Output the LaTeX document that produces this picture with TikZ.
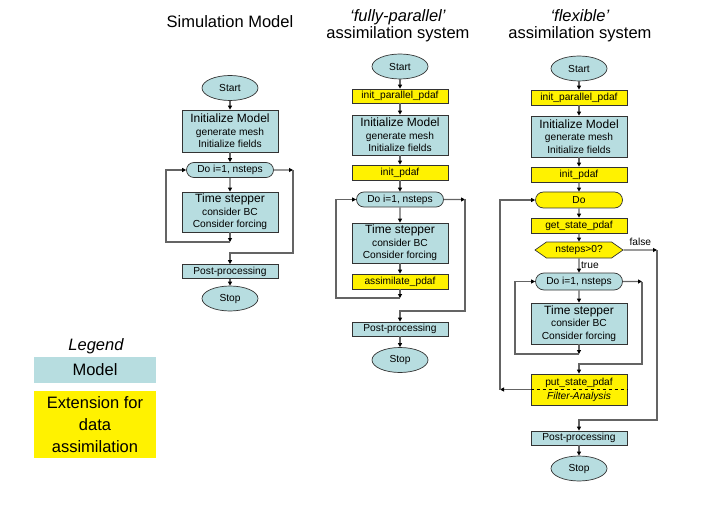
\documentclass[tikz,border=0pt]{standalone}
\usepackage{fontspec}
\setmainfont{Liberation Sans}
\usetikzlibrary{arrows.meta,shapes.geometric,shapes.misc,shapes.symbols}
\definecolor{modelblue}{RGB}{183,221,224}
\definecolor{linegray}{RGB}{100,100,100}
\newcommand{\head}[1]{{\fontsize{12}{13}\selectfont #1}}
\tikzset{
  box/.style={draw=black!80, line width=0.7pt, fill=modelblue, minimum width=96pt,
    inner sep=0pt, align=center, font=\fontsize{10.2}{12.3}\selectfont},
  extbox/.style={box, fill=yellow},
  term/.style={ellipse, draw=black!80, line width=0.7pt, fill=modelblue,
    minimum width=56pt, minimum height=25pt, inner sep=0pt, font=\fontsize{10.2}{12}\selectfont},
  loophead/.style={rounded rectangle, draw=black!80, line width=0.7pt, fill=modelblue,
    minimum width=87pt, minimum height=15pt, inner sep=0pt, font=\fontsize{10.2}{12}\selectfont},
  decision/.style={signal, signal to=east and west, signal pointer angle=70, draw=black!80,
    line width=0.7pt, fill=yellow, minimum width=88pt, minimum height=16pt, inner sep=0pt,
    font=\fontsize{10.2}{12}\selectfont},
  flow/.style={draw=linegray, line width=1.2pt, -{Triangle[length=4pt,width=4pt,color=black]}},
  title/.style={font=\fontsize{16.5}{17}\selectfont, align=center},
  small/.style={font=\fontsize{10.2}{12}\selectfont},
}
\begin{document}
\begin{tikzpicture}[x=1pt,y=-1pt]
\useasboundingbox (0,0) rectangle (720,505);

% titles
\node[title] (t1) at (230,22) {Simulation Model};
\node[title] (t2) at (398,25.5) {\textit{‘fully-parallel’}\\assimilation system};
\node[title] (t3) at (580,25.5) {\textit{‘flexible’}\\assimilation system};

% simulation model
\node[term] (start1) at (230,88) {Start};
\node[box, minimum height=42pt] (init1) at (230,131) {\head{Initialize Model}\\generate mesh\\Initialize fields};
\node[loophead] (do1) at (230,170) {Do i=1, nsteps};
\node[box, minimum height=40pt] (time1) at (230,212) {\head{Time stepper}\\consider BC\\Consider forcing};
\coordinate (j1) at (230,242);
\coordinate (r1) at (293,170);
\node[box, minimum height=14pt] (post1) at (230,271.5) {Post-processing};
\node[term] (stop1) at (230,298.5) {Stop};

\draw[flow] (start1) -- (init1);
\draw[flow] (init1) -- (do1);
\draw[flow] (do1) -- (time1);
\draw[flow] (time1) -- (j1);
\draw[flow] (j1) -- ++(-64,0) |- (do1.west);
\draw[flow] (do1) -- (r1);
\draw[flow] (r1) -- ++(0,83) -| (post1);
\draw[flow] (post1) -- (stop1);

% fully-parallel
\node[term] (start2) at (400,66.5) {Start};
\node[extbox, minimum height=14pt] (ipp2) at (400,96) {init\_parallel\_pdaf};
\node[box, minimum height=40pt] (init2) at (400,135) {\head{Initialize Model}\\generate mesh\\Initialize fields};
\node[extbox, minimum height=15pt] (ip2) at (400,172.5) {init\_pdaf};
\node[loophead] (do2) at (400,199.5) {Do i=1, nsteps};
\node[box, minimum height=40pt] (time2) at (400,243) {\head{Time stepper}\\consider BC\\Consider forcing};
\node[extbox, minimum height=15pt] (as2) at (400,281.5) {assimilate\_pdaf};
\coordinate (j2) at (400,298);
\coordinate (r2) at (465,199.5);
\node[box, minimum height=14pt] (post2) at (400,329) {Post-processing};
\node[term] (stop2) at (400,360) {Stop};

\draw[flow] (start2) -- (ipp2);
\draw[flow] (ipp2) -- (init2);
\draw[flow] (init2) -- (ip2);
\draw[flow] (ip2) -- (do2);
\draw[flow] (do2) -- (time2);
\draw[flow] (time2) -- (as2);
\draw[flow] (as2) -- (j2);
\draw[flow] (j2) -- ++(-64,0) |- (do2.west);
\draw[flow] (do2) -- (r2);
\draw[flow] (r2) -- ++(0,111.5) -| (post2);
\draw[flow] (post2) -- (stop2);

% flexible
\node[term] (start3) at (579,68.5) {Start};
\node[extbox, minimum height=15pt] (ipp3) at (579,97.5) {init\_parallel\_pdaf};
\node[box, minimum height=41pt] (init3) at (579,136.5) {\head{Initialize Model}\\generate mesh\\Initialize fields};
\node[extbox, minimum height=15pt] (ip3) at (579,174.5) {init\_pdaf};
\node[loophead, fill=yellow, minimum height=16pt] (do3) at (579,200) {Do};
\node[extbox, minimum height=15pt] (gs3) at (579,225.5) {get\_state\_pdaf};
\node[decision] (dec3) at (579,250) {nsteps>0?};
\coordinate (f3) at (657,250);
\node[loophead, minimum height=17pt] (do3b) at (579,281.5) {Do i=1, nsteps};
\node[box, minimum height=41pt] (time3) at (579,323.5) {\head{Time stepper}\\consider BC\\Consider forcing};
\coordinate (j3) at (579,354);
\coordinate (r3) at (642,281.5);
\node[extbox, minimum height=31pt] (ps3) at (579,389.5) {put\_state\_pdaf\\[1.5pt]\textit{Filter-Analysis}};
\coordinate (o3) at (500,389.5);
\node[box, minimum height=14pt] (post3) at (579,438) {Post-processing};
\node[term] (stop3) at (579,468.5) {Stop};
\draw[dashed, line width=0.8pt] (ps3.west) -- (ps3.east);

\draw[flow] (start3) -- (ipp3);
\draw[flow] (ipp3) -- (init3);
\draw[flow] (init3) -- (ip3);
\draw[flow] (ip3) -- (do3);
\draw[flow] (do3) -- (gs3);
\draw[flow] (gs3) -- (dec3);
\draw[flow] (dec3) -- node[small, above] {false} (f3);
\draw[flow] (f3) -- ++(0,170) -| (post3);
\draw[flow] (dec3) -- node[small, right, inner sep=1.5pt] {true} (do3b);
\draw[flow] (do3b) -- (time3);
\draw[flow] (time3) -- (j3);
\draw[flow] (j3) -- ++(-64,0) |- (do3b.west);
\draw[flow] (do3b) -- (r3);
\draw[flow] (r3) -- ++(0,82.5) -| (ps3);
\draw[flow] (ps3) -- (o3);
\draw[flow] (o3) |- (do3.west);
\draw[flow] (post3) -- (stop3);

% legend
\node[font=\fontsize{16.5}{18}\selectfont\itshape] (legend) at (96,346) {Legend};
\node[fill=modelblue, minimum width=122pt, minimum height=26pt, inner sep=0pt,
  font=\fontsize{16.5}{18}\selectfont] (lmodel) at (95,370) {Model};
\node[fill=yellow, minimum width=122pt, minimum height=67pt, inner sep=0pt, align=center,
  font=\fontsize{16.5}{22}\selectfont] (lext) at (95,424.5) {Extension for\\data\\assimilation};
\end{tikzpicture}
\end{document}
